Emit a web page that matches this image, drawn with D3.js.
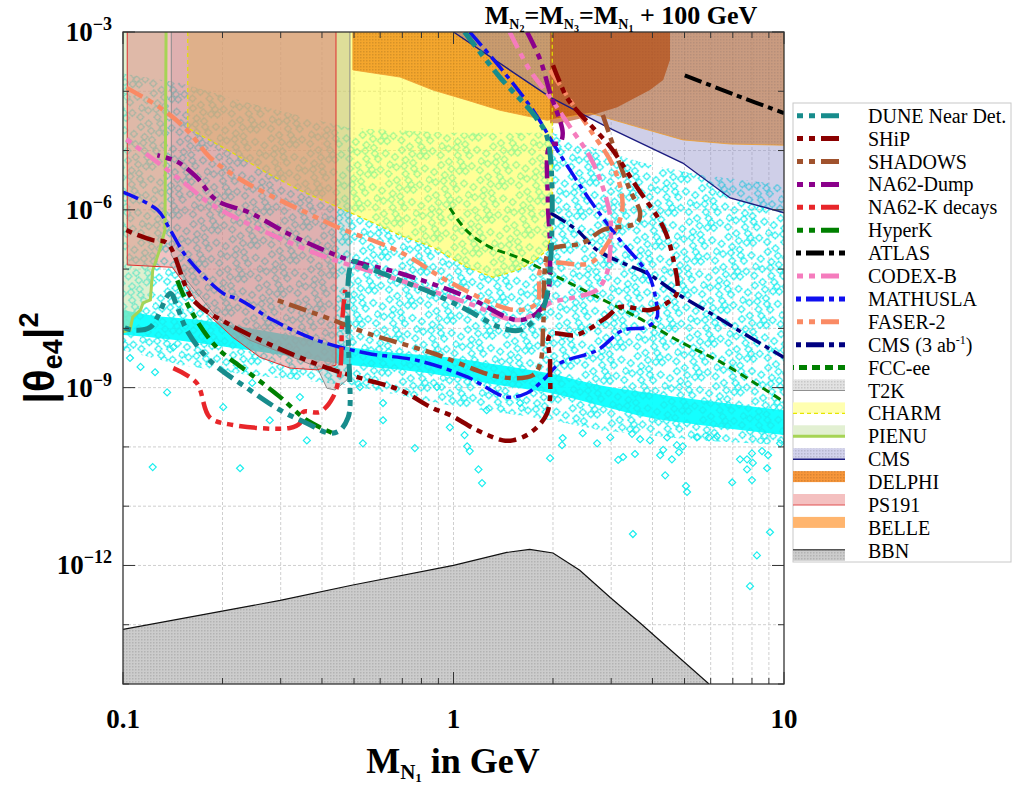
<!DOCTYPE html>
<html>
<head>
<meta charset="utf-8">
<script src="https://cdn.jsdelivr.net/npm/d3@7"></script>
<style>
  body { margin: 0; background: #fff; }
  svg { display: block; }
</style>
</head>
<body>
<div id="chart"></div>
<script>
// x: M_N1 in GeV, y: log10 |theta_e4|^2

// ---- projected sensitivities (curves) ----
const duneNear = [[1.08,-3.0],[1.38,-3.76],[1.77,-4.43],[1.93,-4.82],[1.93,-7.35],[1.83,-7.74],[1.59,-8.03],[1.38,-7.98],[1.10,-7.69],[0.867,-7.41],[0.689,-7.19],[0.547,-6.97],[0.496,-6.88],[0.486,-9.33],[0.480,-9.50],[0.454,-9.72],[0.423,-9.77],[0.360,-9.60],[0.299,-9.38],[0.242,-9.04],[0.183,-8.54],[0.156,-8.03],[0.146,-7.64],[0.139,-7.41],[0.121,-7.98],[0.107,-8.03],[0.100,-7.98]];
const ship = [[2.00,-3.56],[2.20,-4.10],[2.36,-4.32],[2.98,-4.94],[3.59,-5.62],[4.31,-6.29],[4.61,-6.80],[4.74,-7.41],[4.43,-7.57],[3.93,-7.69],[3.19,-7.64],[2.91,-7.81],[2.36,-8.11],[1.96,-8.11],[1.96,-8.59],[1.92,-9.43],[1.70,-9.77],[1.51,-9.89],[1.41,-9.89],[1.18,-9.72],[0.975,-9.46],[0.867,-9.35],[0.689,-9.04],[0.547,-8.87],[0.432,-8.70],[0.343,-8.49],[0.273,-8.25],[0.206,-7.91],[0.163,-7.52],[0.136,-6.56],[0.123,-6.51],[0.107,-6.39],[0.100,-6.31]];
const shadows = [[2.83,-4.40],[3.13,-5.11],[3.42,-5.67],[3.67,-6.05],[3.59,-6.22],[2.83,-6.34],[2.46,-6.56],[2.00,-6.65],[1.92,-6.76],[1.87,-7.91],[1.83,-8.59],[1.74,-8.79],[1.38,-8.82],[0.867,-8.42],[0.547,-8.08],[0.432,-7.86],[0.292,-7.52]];
const na62Dump = [[1.67,-3.0],[1.83,-3.47],[1.96,-4.03],[2.14,-4.70],[2.10,-4.87],[1.96,-4.91],[1.93,-5.84],[1.96,-6.68],[1.92,-7.47],[1.79,-7.74],[1.56,-7.86],[1.10,-7.47],[0.689,-7.07],[0.486,-6.85],[0.394,-6.65],[0.313,-6.39],[0.242,-6.05],[0.192,-5.84],[0.167,-5.45],[0.146,-5.19],[0.127,-5.08]];
const na62K = [[0.142,-8.67],[0.167,-8.92],[0.183,-9.50],[0.215,-9.63],[0.320,-9.68],[0.343,-9.60],[0.351,-9.41],[0.394,-9.41],[0.432,-9.16],[0.454,-8.70],[0.460,-7.91],[0.470,-7.35]];
const hyperK = [[0.146,-7.19],[0.160,-7.69],[0.192,-8.32],[0.242,-8.76],[0.299,-9.16],[0.360,-9.55],[0.432,-9.77]];
const atlas = [[5.01,-3.73],[7.11,-4.06],[10,-4.37]];
const codexB = [[1.48,-3.0],[1.70,-3.64],[1.96,-4.10],[2.25,-4.60],[2.59,-5.11],[2.83,-5.62],[2.98,-6.12],[2.98,-6.68],[2.91,-7.07],[2.72,-7.35],[2.36,-7.47],[1.96,-7.57],[1.83,-7.69],[1.56,-7.86],[1.10,-7.57],[0.689,-7.19],[0.394,-6.76],[0.226,-6.17],[0.183,-5.89],[0.152,-5.53],[0.121,-5.11],[0.100,-4.77]];
const mathusla = [[1.12,-3.0],[1.38,-3.59],[1.74,-4.32],[2.06,-4.99],[2.59,-5.84],[3.19,-6.51],[3.67,-6.90],[3.93,-7.14],[4.13,-7.64],[4.13,-7.81],[3.85,-7.98],[3.26,-8.03],[2.72,-8.37],[2.10,-8.59],[1.87,-8.87],[1.67,-9.09],[1.45,-9.16],[1.10,-8.82],[0.776,-8.54],[0.547,-8.42],[0.386,-8.20],[0.284,-7.86],[0.226,-7.52],[0.201,-7.41],[0.156,-6.80],[0.139,-6.34],[0.127,-6.00],[0.100,-5.70]];
const faser2 = [[1.96,-3.64],[2.25,-4.15],[2.59,-4.65],[3.08,-5.33],[3.24,-6.00],[2.91,-6.59],[2.59,-6.90],[1.96,-6.90],[1.83,-7.02],[1.79,-7.57],[1.53,-7.69],[0.975,-7.22],[0.689,-6.71],[0.444,-6.29],[0.360,-6.05],[0.284,-5.78],[0.221,-5.45],[0.183,-5.11],[0.156,-4.65],[0.129,-4.27],[0.100,-3.91]];
const cms3ab = [[1.96,-6.05],[2.36,-6.34],[2.72,-6.68],[3.26,-6.90],[3.85,-7.07],[4.74,-7.41],[6.27,-7.81],[7.89,-8.15],[10,-8.49]];
const fccee = [[0.975,-5.97],[1.10,-6.36],[1.29,-6.63],[1.56,-6.80],[1.96,-7.07],[2.59,-7.41],[3.59,-7.81],[4.94,-8.25],[6.53,-8.59],[10,-9.24]];

// ---- excluded regions (boundaries) ----
const pienu = [[0.135,-3.0],[0.134,-6.34],[0.129,-6.68],[0.123,-7.02],[0.121,-7.52],[0.115,-7.57],[0.113,-7.69],[0.107,-7.81],[0.105,-8.03],[0.100,-8.06]];
const ps191 = [[0.103,-3.0],[0.103,-6.93],[0.141,-6.97],[0.156,-7.30],[0.171,-7.64],[0.215,-8.15],[0.260,-8.49],[0.320,-8.67],[0.386,-8.70],[0.441,-8.62],[0.441,-3.0]];
const t2k = [[0.140,-3.0],[0.140,-6.76],[0.156,-7.19],[0.192,-7.81],[0.242,-8.20],[0.305,-8.42],[0.386,-8.65],[0.414,-9.01],[0.438,-9.04],[0.476,-8.87],[0.486,-8.76],[0.486,-3.0]];
const charm = [[0.157,-3.0],[0.157,-4.62],[0.215,-5.04],[0.273,-5.38],[0.343,-5.67],[0.432,-5.92],[0.547,-6.17],[0.689,-6.43],[0.867,-6.63],[0.975,-6.80],[1.10,-6.97],[1.32,-7.14],[1.56,-7.02],[1.74,-6.88],[1.92,-6.68],[1.99,-6.34],[1.99,-3.0]];
const cms = [[1.0,-3.0],[1.96,-4.10],[2.91,-4.60],[4.94,-5.21],[6.87,-5.80],[8.89,-5.97],[10,-6.05]];
const delphi = [[0.496,-3.0],[0.496,-3.64],[0.689,-3.76],[0.867,-3.98],[1.10,-4.15],[1.38,-4.32],[1.92,-4.49],[2.59,-4.37],[3.59,-4.60],[4.94,-4.82],[6.87,-4.89],[10,-4.91],[10,-3.0]];
const belle = [[1.96,-3.0],[1.96,-4.54],[2.10,-4.54],[2.46,-4.45],[3.13,-4.27],[3.93,-3.98],[4.31,-3.81],[4.52,-3.47],[4.52,-3.0]];
const bbn = [[0.1,-13.08],[0.1995,-12.77],[0.299,-12.59],[0.496,-12.33],[1.0,-12.0],[1.45,-11.78],[1.70,-11.73],[2.00,-11.79],[2.41,-12.08],[2.98,-12.54],[3.67,-12.97],[4.61,-13.46],[5.93,-14.0]];

// ---- scan points ----
// outline of the dense part of the scan
const scanCloud = [[0.1,-3.70],[0.149,-3.86],[0.242,-4.20],[0.486,-4.62],[0.975,-4.70],[1.99,-4.70],[2.77,-4.99],[3.93,-5.24],[5.57,-5.41],[10,-5.58],
                   [10,-9.97],[5.57,-9.89],[2.77,-9.72],[1.99,-9.55],[0.975,-9.30],[0.486,-8.96],[0.242,-8.79],[0.149,-8.62],[0.1,-8.37]];
// [mass, upper, lower] of the saturated band
const scanBand = [[0.1,-7.69,-8.11],[0.121,-7.78,-8.15],[0.171,-7.86,-8.25],[0.242,-8.00,-8.37],[0.343,-8.15,-8.49],[0.486,-8.32,-8.62],[0.689,-8.42,-8.70],[0.975,-8.49,-8.81],[1.38,-8.62,-8.96],[1.96,-8.76,-9.09],[2.77,-8.96,-9.30],[3.93,-9.09,-9.51],[5.57,-9.21,-9.63],[10,-9.38,-9.80]];
const scanSparse = [[0.105,-8.50],[0.113,-8.65],[0.125,-8.74],[0.136,-9.08],[0.142,-8.32],[0.123,-10.34],[0.201,-9.33],[0.226,-10.36],[0.246,-8.92],[0.278,-9.55],[0.343,-9.16],[0.360,-9.89],[0.521,-8.99],[0.532,-9.94],[0.612,-9.55],[0.612,-9.26],[0.764,-10.02],[0.891,-8.99],[0.975,-9.67],[1.08,-9.80],[1.10,-9.99],[1.12,-10.07],[1.19,-10.38],[1.22,-10.61],[1.26,-9.38],[1.59,-9.26],[1.96,-10.19],[2.13,-9.97],[2.14,-9.85],[2.46,-9.77],[2.72,-9.94],[2.98,-9.84],[3.15,-10.22],[3.26,-10.17],[3.47,-9.78],[3.54,-10.12],[3.67,-9.87],[3.93,-9.89],[4.22,-10.14],[4.31,-10.05],[4.37,-10.48],[4.43,-9.84],[4.58,-10.21],[4.74,-9.97],[4.81,-10.09],[4.94,-9.99],[5.05,-10.66],[5.09,-10.76],[5.45,-9.84],[5.93,-9.84],[6.27,-9.82],[6.97,-10.60],[7.36,-10.21],[7.73,-10.21],[8.00,-10.11],[8.05,-10.27],[7.73,-10.38],[8.00,-10.56],[8.58,-10.07],[8.95,-10.14],[8.89,-10.36],[3.49,-11.47],[9.07,-11.44],[8.28,-11.83],[7.89,-12.35],[9.73,-9.94]];

// ---- axes ----
const massLabels = [0.1, 1, 10];
const expLabels = [-3, -6, -9, -12];

const W = 1014, H = 788;
const x = d3.scaleLog().domain([0.1, 10]).range([123, 784]);
const y = d3.scaleLinear().domain([-14, -3]).range([684, 32]);

const svg = d3.select("#chart").append("svg")
    .attr("width", W).attr("height", H)
    .style("font-family", "'Liberation Serif', 'Times New Roman', serif");

const defs = svg.append("defs");
defs.append("clipPath").attr("id", "plotclip")
    .append("rect").attr("x", 123).attr("y", 32).attr("width", 661).attr("height", 652);

// diamond texture used for the dense scan cloud
const cloudPat = defs.append("pattern").attr("id", "cloud")
    .attr("patternUnits", "userSpaceOnUse").attr("width", 42).attr("height", 36)
    .attr("patternTransform", "rotate(21)");
const spots = [[5,5],[16,4],[27,9],[37,5],[10,14],[21,17],[32,13],[38,22],[5,23],[15,26],[26,22],[34,29],[9,32],[20,32],[28,31],[17,10],[30,25],[24,4],[3,14]];
cloudPat.selectAll("path").data(spots).join("path")
    .attr("d", d => `M${d[0]},${d[1] - 3.5}l3.5,3.5l-3.5,3.5l-3.5,-3.5z`)
    .attr("transform", d => `rotate(-21,${d[0]},${d[1]})`)
    .attr("fill", "none").attr("stroke", "#1aeeee").attr("stroke-width", 1.2);

const hatch = defs.append("pattern").attr("id", "hatch")
    .attr("patternUnits", "userSpaceOnUse").attr("width", 3).attr("height", 3);
hatch.append("rect").attr("width", 1.5).attr("height", 1.5).attr("fill", "#000").attr("opacity", 0.12);

const line = d3.line().x(d => x(d[0])).y(d => y(d[1]));
const smooth = d3.line().x(d => x(d[0])).y(d => y(d[1])).curve(d3.curveCatmullRom.alpha(0.5));

// grid
const grid = svg.append("g");
const xt = x.ticks().filter(v => v > 0.1 && v < 10);
grid.selectAll(".gx").data(xt).join("line")
    .attr("x1", d => x(d)).attr("x2", d => x(d)).attr("y1", 32).attr("y2", 684)
    .attr("stroke", "#cfcfcf").attr("stroke-dasharray", "3,2").attr("stroke-width", 1);
grid.selectAll(".gy").data(d3.range(-13, -3)).join("line")
    .attr("y1", d => y(d)).attr("y2", d => y(d)).attr("x1", 123).attr("x2", 784)
    .attr("stroke", "#cfcfcf").attr("stroke-dasharray", "3,2").attr("stroke-width", 1);

const plot = svg.append("g").attr("clip-path", "url(#plotclip)");

// scan points
const band = d3.area().x(d => x(d[0])).y0(d => y(d[2])).y1(d => y(d[1])).curve(d3.curveMonotoneX);
plot.append("path").datum(scanBand).attr("d", band).attr("fill", "#00ffff").attr("fill-opacity", 0.92);
plot.append("path").datum(scanCloud).attr("d", d => line(d) + "Z").attr("fill", "url(#cloud)");
plot.selectAll(".pt").data(scanSparse).join("path")
    .attr("d", d => `M${x(d[0])},${y(d[1]) - 3.5}l3.5,3.5l-3.5,3.5l-3.5,-3.5z`)
    .attr("fill", "none").attr("stroke", "#1aeeee").attr("stroke-width", 1.2);

// excluded regions (DELPHI sits under CMS so that the overlap turns brown)
const regions = [
  { pts: charm, close: [], fill: "#ffff40", op: 0.55, stroke: "#e2e200", sw: 1.2, dash: "4,3" },
  { pts: delphi, close: [], fill: "#f08000", op: 0.7, stroke: "#f0a030", sw: 0.8, hatch: true },
  { pts: cms, close: [[10, -3]], fill: "#8c8cc8", op: 0.42, stroke: "#1c1c80", sw: 1.4 },
  { pts: belle, close: [], fill: "#b04000", op: 0.6, stroke: "none", sw: 0 },
  { pts: t2k, close: [], fill: "#a0a0a0", op: 0.35, stroke: "#8a8a8a", sw: 1 },
  { pts: pienu, close: [[0.1, -3]], fill: "#c0e0a0", op: 0.5, stroke: "#a6d455", sw: 3 },
  { pts: ps191, close: [], fill: "#e07878", op: 0.45, stroke: "#e03030", sw: 1 },
  { pts: bbn, close: [[0.1, -14]], fill: "#cccccc", op: 1, stroke: "#111", sw: 1.2, hatch: true }
];
regions.forEach(r => {
  const poly = r.pts.concat(r.close);
  plot.append("path").attr("d", line(poly) + "Z").attr("fill", r.fill).attr("fill-opacity", r.op);
  if (r.hatch) plot.append("path").attr("d", line(poly) + "Z").attr("fill", "url(#hatch)");
});
regions.forEach(r => {
  if (r.stroke === "none") return;
  plot.append("path").attr("d", line(r.pts)).attr("fill", "none")
      .attr("stroke", r.stroke).attr("stroke-width", r.sw)
      .attr("stroke-dasharray", r.dash || null);
});

// sensitivity curves
const ddot = "18,6,6,6,6,6", dot1 = "18,5,5,5";
const curves = [
  { name: "FCC-ee", pts: fccee, color: "#008000", w: 3, dash: "8,5" },
  { name: "CMS (3 ab-1)", pts: cms3ab, color: "#000080", w: 3.5, dash: dot1 },
  { name: "FASER-2", pts: faser2, color: "#fa8a64", w: 4.5, dash: ddot },
  { name: "MATHUSLA", pts: mathusla, color: "#0f0ff0", w: 3.5, dash: dot1 },
  { name: "CODEX-B", pts: codexB, color: "#f57cbd", w: 4.5, dash: ddot },
  { name: "ATLAS", pts: atlas, color: "#000000", w: 4, dash: dot1 },
  { name: "HyperK", pts: hyperK, color: "#008000", w: 4.5, dash: ddot },
  { name: "NA62-K decays", pts: na62K, color: "#e8262a", w: 4.5, dash: ddot },
  { name: "NA62-Dump", pts: na62Dump, color: "#8b008b", w: 4.5, dash: ddot },
  { name: "SHADOWS", pts: shadows, color: "#a0522d", w: 4.5, dash: ddot },
  { name: "SHiP", pts: ship, color: "#8b0000", w: 4.5, dash: ddot },
  { name: "DUNE Near Det.", pts: duneNear, color: "#178c8c", w: 5, dash: ddot }
];
curves.forEach(c => {
  plot.append("path").attr("d", smooth(c.pts)).attr("fill", "none")
      .attr("stroke", c.color).attr("stroke-width", c.w).attr("stroke-dasharray", c.dash);
});

// frame and ticks
const axes = svg.append("g").attr("stroke", "#333");
axes.append("rect").attr("x", 123).attr("y", 32).attr("width", 661).attr("height", 652)
    .attr("fill", "none").attr("stroke-width", 1.3);
const allX = x.ticks();
allX.forEach(v => {
  const len = massLabels.includes(v) ? 12 : 6;
  axes.append("line").attr("x1", x(v)).attr("x2", x(v)).attr("y1", 684).attr("y2", 684 - len);
  axes.append("line").attr("x1", x(v)).attr("x2", x(v)).attr("y1", 32).attr("y2", 32 + len);
});
d3.range(-14, -2).forEach(e => {
  const len = expLabels.includes(e) ? 12 : 6;
  axes.append("line").attr("y1", y(e)).attr("y2", y(e)).attr("x1", 123).attr("x2", 123 + len);
  axes.append("line").attr("y1", y(e)).attr("y2", y(e)).attr("x1", 784).attr("x2", 784 - len);
});

// tick labels
svg.selectAll(".xl").data(massLabels).join("text")
    .attr("x", d => x(d)).attr("y", 728).attr("text-anchor", "middle")
    .attr("font-size", 27).attr("font-weight", "bold").text(d => d);
const yl = svg.selectAll(".yl").data(expLabels).join("text")
    .attr("x", 112).attr("y", d => y(d) + 9).attr("text-anchor", "end")
    .attr("font-size", 27).attr("font-weight", "bold");
yl.append("tspan").text("10");
yl.append("tspan").attr("font-size", 18).attr("dy", -11).text(d => "\u2212" + (-d));

// axis titles
const xtitle = svg.append("text").attr("x", 453).attr("y", 773).attr("text-anchor", "middle")
    .attr("font-size", 36).attr("font-weight", "bold");
xtitle.append("tspan").text("M");
xtitle.append("tspan").attr("font-size", 21).attr("dy", 6).text("N");
xtitle.append("tspan").attr("font-size", 13).attr("dy", 3).text("1");
xtitle.append("tspan").attr("dy", -9).text(" in GeV");

const ytitle = svg.append("text").attr("transform", "translate(54,358) rotate(-90)")
    .attr("text-anchor", "middle").attr("font-family", "'Liberation Sans', Arial, sans-serif")
    .attr("font-size", 42).attr("font-weight", "bold");
ytitle.append("tspan").text("|\u03b8");
ytitle.append("tspan").attr("font-size", 27).attr("dy", 8).text("e4");
ytitle.append("tspan").attr("dy", -8).text("|");
ytitle.append("tspan").attr("font-size", 27).attr("dy", -16).text("2");

const title = svg.append("text").attr("x", 621).attr("y", 24).attr("text-anchor", "middle")
    .attr("font-size", 26).attr("font-weight", "bold");
[["2", ""], ["3", "="], ["1", "="]].forEach(([k, pre], i) => {
  title.append("tspan").attr("dy", i ? -8 : 0).text(pre + "M");
  title.append("tspan").attr("font-size", 14).attr("dy", 5).text("N");
  title.append("tspan").attr("font-size", 10).attr("dy", 3).text(k);
});
title.append("tspan").attr("dy", -8).text("\u00a0+ 100 GeV");

// legend
const lg = svg.append("g");
lg.append("rect").attr("x", 793).attr("y", 103).attr("width", 218).attr("height", 459)
    .attr("fill", "#fff").attr("stroke", "#c8c8c8");
const legendCurves = curves.slice().reverse();
const rowY = i => 115.7 + 22.9 * i;
legendCurves.forEach((c, i) => {
  lg.append("line").attr("x1", 793).attr("x2", 845).attr("y1", rowY(i)).attr("y2", rowY(i))
      .attr("stroke", c.color).attr("stroke-width", 5).attr("stroke-dasharray", c.dash)
      .attr("stroke-dashoffset", 20);
  const t = lg.append("text").attr("x", 868).attr("y", rowY(i) + 7).attr("font-size", 20);
  if (c.name.startsWith("CMS")) {
    t.append("tspan").text("CMS (3 ab");
    t.append("tspan").attr("font-size", 12).attr("dy", -8).text("-1");
    t.append("tspan").attr("dy", 8).text(")");
  } else t.text(c.name);
});
const swatches = [
  { name: "T2K", fill: "#e2e2e2", line: "#909090", lw: 1.2, hatch: true },
  { name: "CHARM", fill: "#ffffb0", line: "#e6e600", lw: 1.2, dash: "4,3" },
  { name: "PIENU", fill: "#e2f0d2", line: "#a6d455", lw: 3 },
  { name: "CMS", fill: "#d2d2ec", line: "#1c1c80", lw: 1.5, hatch: true },
  { name: "DELPHI", fill: "#f7963a", line: null, hatch: true },
  { name: "PS191", fill: "#f4c0c0", line: "#e05050", lw: 1.2 },
  { name: "BELLE", fill: "#ffb56e", line: null },
  { name: "BBN", fill: "#cccccc", line: "#555", lw: 1.5, hatch: true, top: true }
];
swatches.forEach((s, j) => {
  const cy = rowY(j + legendCurves.length);
  const y0 = s.top ? cy - 1 : cy - 11;
  lg.append("rect").attr("x", 793).attr("y", y0).attr("width", 52).attr("height", 11).attr("fill", s.fill);
  if (s.hatch) lg.append("rect").attr("x", 793).attr("y", y0).attr("width", 52).attr("height", 11).attr("fill", "url(#hatch)");
  if (s.line) {
    const ly = s.top ? cy - 1 : cy;
    lg.append("line").attr("x1", 793).attr("x2", 845).attr("y1", ly).attr("y2", ly)
        .attr("stroke", s.line).attr("stroke-width", s.lw).attr("stroke-dasharray", s.dash || null);
  }
  lg.append("text").attr("x", 868).attr("y", cy + 7).attr("font-size", 20).text(s.name);
});
</script>
</body>
</html>
